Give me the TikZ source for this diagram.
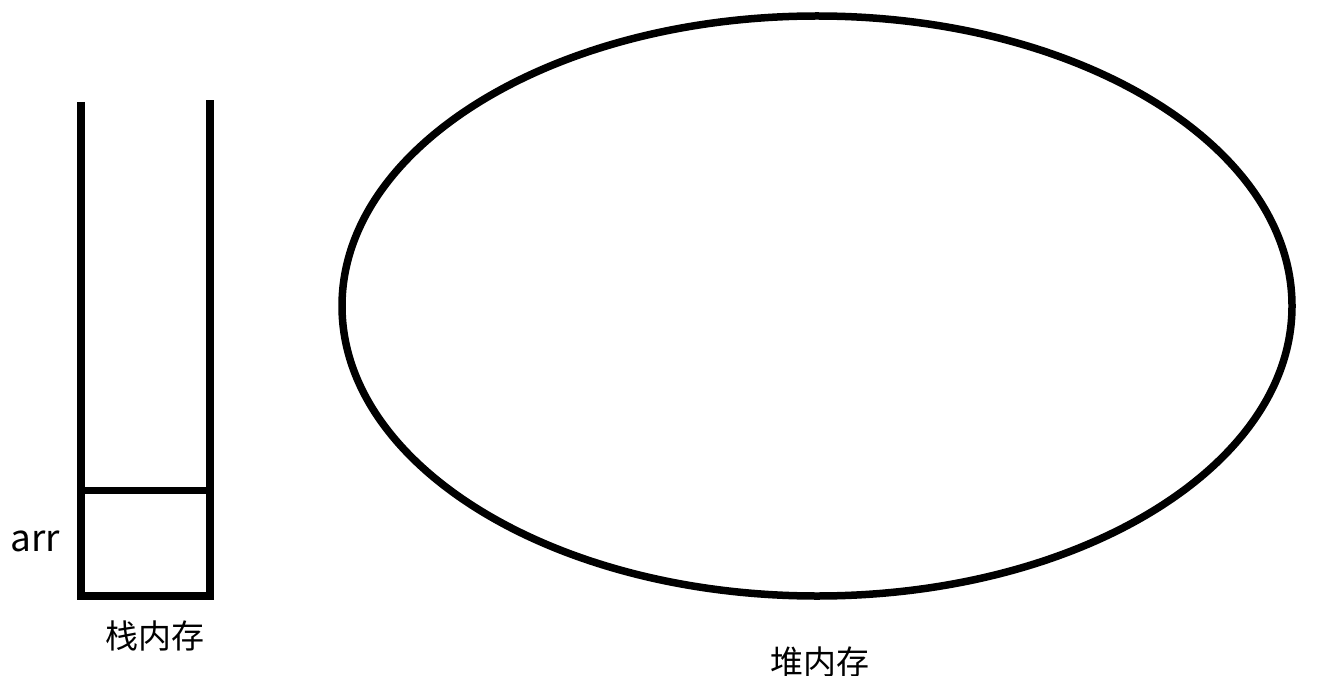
\documentclass[tikz,border=0pt]{standalone}
\usepackage{fontspec}
\newfontfamily\cjk{Noto Sans CJK SC}
\newfontfamily\cjkmed{Noto Sans CJK SC Medium}
\begin{document}
\begin{tikzpicture}[x=1pt,y=-1pt,
  thick line/.style={line width=8pt,black},
  lbl/.style={font=\cjk\fontsize{37}{40}\selectfont,inner sep=0pt},
  cjklbl/.style={font=\cjk\fontsize{33}{38}\selectfont,inner sep=0pt}]
\useasboundingbox[fill=white] (0,0) rectangle (1332,676);
\coordinate (tl) at (81,102);
\coordinate (tr) at (210,100);
\coordinate (bl) at (81,596);
\coordinate (br) at (210,596);
\coordinate (ml) at (81,490);
\coordinate (mr) at (210,490);
\draw[thick line,line join=miter] (tl) -- (bl) -- (br) -- (tr);
\draw[thick line,line width=7pt] (ml) -- (mr);
\draw[line width=7.5pt] (817,306) ellipse [x radius=475, y radius=290];
\node[lbl] (arr) at (35,541) {arr};
\node[cjklbl] (stack) at (155,636) {栈内存};
\node[cjklbl] (heap) at (820,662) {堆内存};
\end{tikzpicture}
\end{document}
